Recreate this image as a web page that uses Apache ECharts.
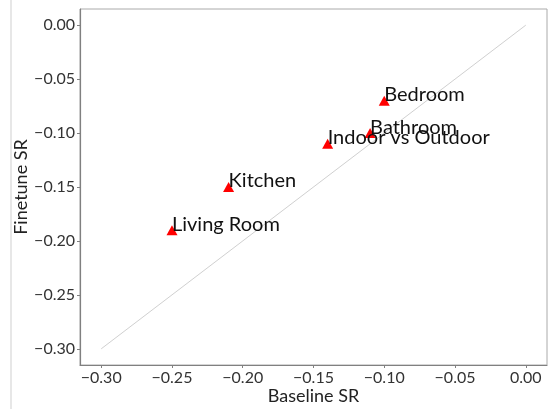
<!DOCTYPE html>
<html>
<head>
<meta charset="utf-8">
<script src="https://cdn.jsdelivr.net/npm/echarts@6/dist/echarts.min.js"></script>
<style>
  html, body { margin: 0; padding: 0; background: #fff; }
  #chart { width: 548px; height: 409px; }
</style>
</head>
<body>
<div id="chart"></div>
<script>
// Room-type scores: baseline vs finetuned
const rooms = ['Living Room', 'Kitchen', 'Indoor vs Outdoor', 'Bathroom', 'Bedroom'];
const baselineSR = [-0.25, -0.21, -0.14, -0.11, -0.10];
const finetuneSR = [-0.19, -0.15, -0.11, -0.10, -0.07];
const tickValues = [-0.30, -0.25, -0.20, -0.15, -0.10, -0.05, 0.00];
const diagonal = [[-0.30, -0.30], [0.00, 0.00]];

const FONT = 'Lato, "Noto Sans", sans-serif';
const fmt = v => (v < 0 ? '\u2212' : '') + Math.abs(v).toFixed(2);
const MARK_W = 11, MARK_H = 10;

const chart = echarts.init(document.getElementById('chart'), null, { renderer: 'canvas' });

function axis(name, gap, rotate) {
  return {
    type: 'value',
    min: -0.315,
    max: 0.015,
    name: name,
    nameLocation: 'middle',
    nameGap: gap,
    nameRotate: rotate,
    nameMoveOverlap: false,
    nameTextStyle: { fontFamily: FONT, fontSize: 18, color: '#222' },
    axisLine: { show: true, onZero: false, lineStyle: { color: '#808080', width: 1.2 } },
    axisTick: { show: true, length: 3, customValues: tickValues, lineStyle: { color: '#808080' } },
    axisLabel: {
      customValues: tickValues,
      formatter: fmt,
      fontFamily: FONT,
      fontSize: 16,
      color: '#333',
      margin: 5
    },
    splitLine: { show: false }
  };
}

chart.setOption({
  animation: false,
  backgroundColor: '#fff',
  grid: {
    left: 80, right: 1, top: 9, bottom: 44,
    outerBoundsMode: 'none', containLabel: false,
    show: true, borderColor: '#aaa', borderWidth: 1
  },
  xAxis: axis('Baseline SR', 22, 0),
  yAxis: axis('Finetune SR', 50, 90),
  graphic: [{
    type: 'line',
    shape: { x1: 11, y1: 0, x2: 11, y2: 409 },
    style: { stroke: '#cfcfcf', lineWidth: 1 }
  }],
  series: [
    {
      type: 'line',
      data: diagonal,
      symbol: 'none',
      lineStyle: { color: '#d0d0d0', width: 1 },
      silent: true,
      z: 1
    },
    {
      type: 'scatter',
      data: rooms.map((r, i) => ({ name: r, value: [baselineSR[i], finetuneSR[i]] })),
      symbol: 'triangle',
      symbolSize: [MARK_W, MARK_H],
      itemStyle: { color: '#ff0000', opacity: 1 },
      z: 3,
      label: {
        show: true,
        position: [MARK_W / 2, MARK_H / 2],
        align: 'left',
        verticalAlign: 'bottom',
        offset: [0, 4],
        formatter: p => p.name,
        fontFamily: FONT,
        fontSize: 20,
        color: '#111'
      }
    }
  ]
});
</script>
</body>
</html>
